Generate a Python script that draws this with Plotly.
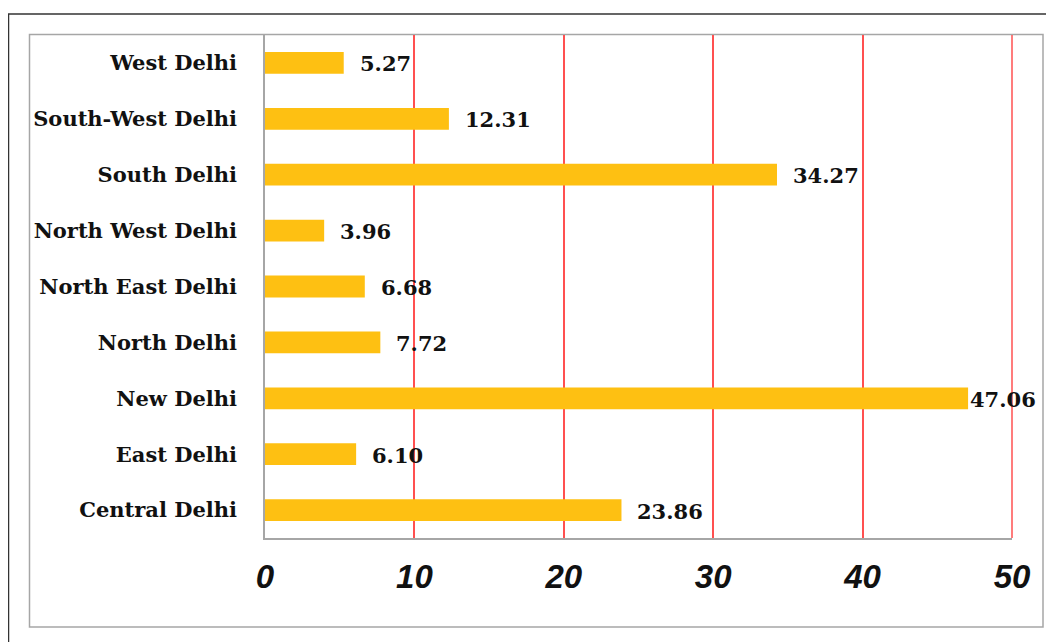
import plotly.graph_objects as go

districts = ["Central Delhi", "East Delhi", "New Delhi", "North Delhi", "North East Delhi",
             "North West Delhi", "South Delhi", "South-West Delhi", "West Delhi"]
values = [23.86, 6.10, 47.06, 7.72, 6.68, 3.96, 34.27, 12.31, 5.27]
value_labels = ["23.86", "6.10", "47.06", "7.72", "6.68", "3.96", "34.27", "12.31", "5.27"]
x_ticks = [0, 10, 20, 30, 40, 50]
x_range = [0, 50]

# page has an 8px body margin; figure sized to fit the window
OFF = 8
W, H = 1054 - OFF, 642 - OFF
L, T = 265 - OFF, 35 - OFF
R = W - (1012 - OFF)
B = H - (538 - OFF)
pw, ph = W - L - R, H - T - B

def px_x(x):  # page pixel -> paper
    return (x - OFF - L) / pw

def px_y(y):
    return (H - B - (y - OFF)) / ph

serif = "DejaVu Serif"
grid_color = "#FF5050"

fig = go.Figure(go.Bar(
    y=districts, x=values, orientation="h",
    marker=dict(color="#FEC012", line=dict(width=0)),
    hoverinfo="skip",
))

label_shift = {"New Delhi": 0}
for d, v, t in zip(districts, values, value_labels):
    fig.add_annotation(x=v, y=d, text=t, showarrow=False, xanchor="left", yanchor="middle",
                       xshift=label_shift.get(d, 14), yshift=-1,
                       font=dict(family=serif, size=21, color="#111111", weight="bold"))

# outer frames
fig.add_shape(type="rect", xref="paper", yref="paper",
              x0=px_x(8.5), x1=px_x(1100), y0=px_y(700), y1=px_y(14),
              line=dict(color="#333333", width=1.5), layer="below")
fig.add_shape(type="rect", xref="paper", yref="paper",
              x0=px_x(29.5), x1=px_x(1043), y0=px_y(627), y1=px_y(34.5),
              line=dict(color="#A6A6A6", width=1.5), layer="below")
# last gridline sits on the plot edge (plotly hides/clips it), draw it unclipped
xe = (x_ticks[-1] - x_range[0]) / (x_range[1] - x_range[0])
fig.add_shape(type="line", xref="paper", yref="paper", x0=xe, x1=xe, y0=0, y1=1,
              line=dict(color=grid_color, width=1.5), layer="above")

fig.update_layout(
    width=W, height=H,
    margin=dict(l=L, r=R, t=T, b=B, pad=0),
    paper_bgcolor="white", plot_bgcolor="white",
    bargap=0.61, showlegend=False,
    xaxis=dict(range=x_range, tickvals=x_ticks, ticktext=[str(v) for v in x_ticks],
               showgrid=True, gridcolor=grid_color, gridwidth=1.5, zeroline=False,
               showline=True, linecolor="#A6A6A6", linewidth=1.5,
               ticks="", ticklabelstandoff=9,
               tickfont=dict(family="Liberation Sans, Arial", size=33, color="#111111",
                             weight="bold", style="italic"),
               fixedrange=True),
    yaxis=dict(categoryorder="array", categoryarray=districts,
               showgrid=False, zeroline=False,
               showline=True, linecolor="#A6A6A6", linewidth=1.5,
               ticks="", ticklabelstandoff=22,
               tickfont=dict(family=serif, size=21, color="#111111", weight="bold"),
               fixedrange=True),
)

fig.write_html("out.html")
